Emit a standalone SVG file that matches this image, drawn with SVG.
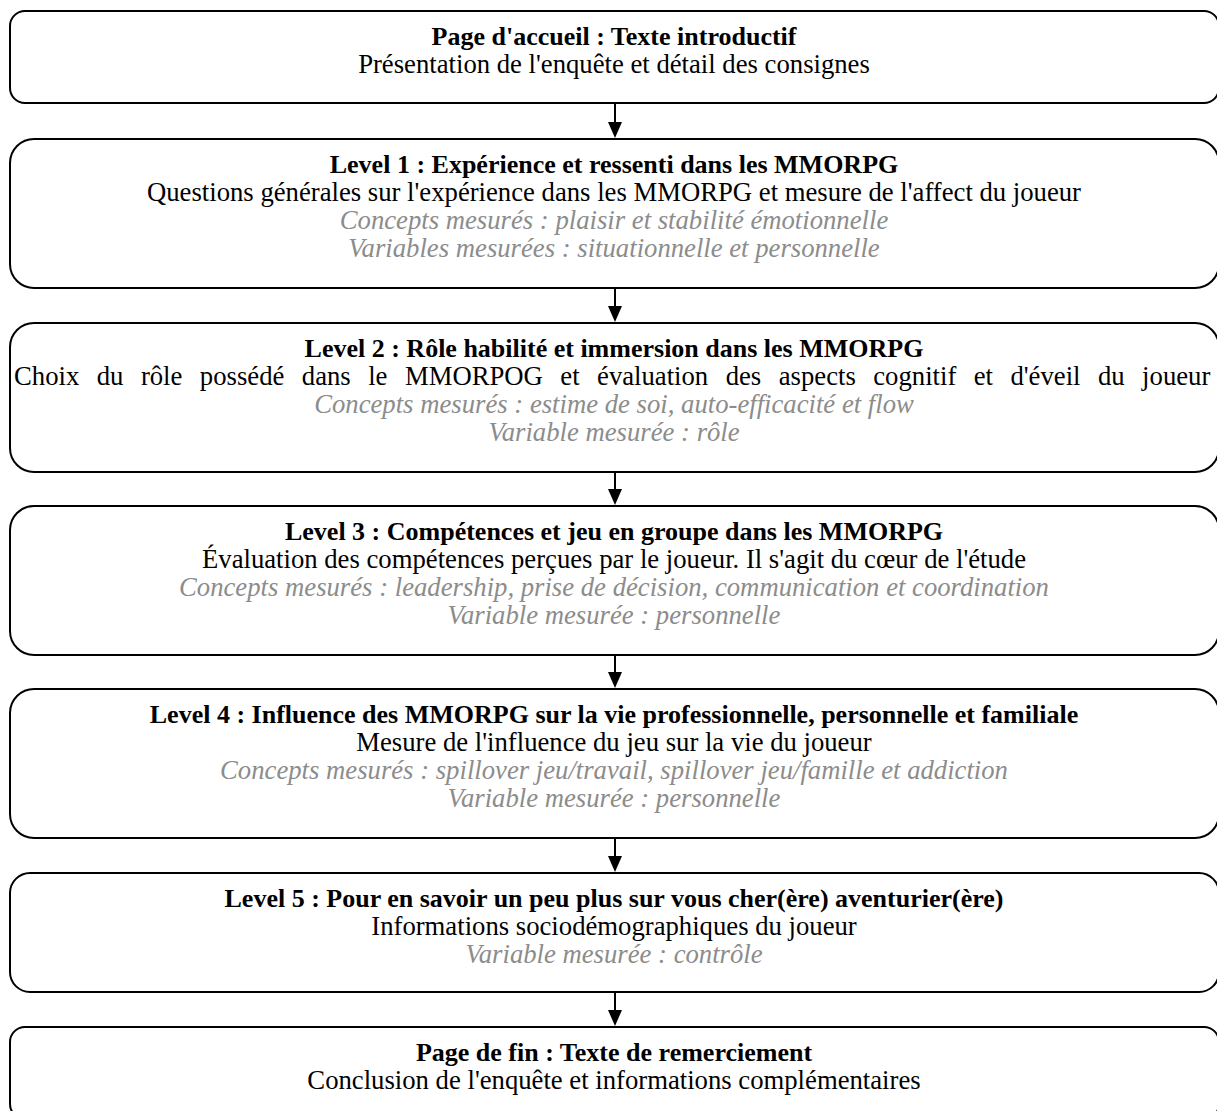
<svg xmlns="http://www.w3.org/2000/svg" width="1217" height="1111" viewBox="0 0 1217 1111">
<defs>
<style>
.box{fill:#fff;stroke:#000;stroke-width:2}
text{font-family:"Liberation Serif","Times New Roman",serif;font-size:26.7px;text-anchor:middle;fill:#000}
.t{font-weight:bold;font-size:26px}
.g{font-style:italic;fill:#8c8c8c}
.c{stroke:#000;stroke-width:2;fill:none}
.ah{fill:#000}
</style>
</defs>
<g id="connectors">
<line class="c" x1="615" y1="104" x2="615" y2="122"/><path class="ah" d="M608,122 L622,122 L615,138 Z"/>
<line class="c" x1="615" y1="289" x2="615" y2="306"/><path class="ah" d="M608,306 L622,306 L615,322 Z"/>
<line class="c" x1="615" y1="473" x2="615" y2="489"/><path class="ah" d="M608,489 L622,489 L615,505 Z"/>
<line class="c" x1="615" y1="656" x2="615" y2="672"/><path class="ah" d="M608,672 L622,672 L615,688 Z"/>
<line class="c" x1="615" y1="839" x2="615" y2="856"/><path class="ah" d="M608,856 L622,856 L615,872 Z"/>
<line class="c" x1="615" y1="993" x2="615" y2="1010"/><path class="ah" d="M608,1010 L622,1010 L615,1026 Z"/>
</g>
<g id="n0">
<rect class="box" x="10" y="11" width="1209" height="92" rx="15"/>
<text class="t" x="614" y="45">Page d'accueil : Texte introductif</text>
<text x="614" y="73">Présentation de l'enquête et détail des consignes</text>
</g>
<g id="n1">
<rect class="box" x="10" y="139" width="1209" height="149" rx="24"/>
<text class="t" x="614" y="173">Level 1 : Expérience et ressenti dans les MMORPG</text>
<text x="614" y="201">Questions générales sur l'expérience dans les MMORPG et mesure de l'affect du joueur</text>
<text class="g" x="614" y="229">Concepts mesurés : plaisir et stabilité émotionnelle</text>
<text class="g" x="614" y="257">Variables mesurées : situationnelle et personnelle</text>
</g>
<g id="n2">
<rect class="box" x="10" y="323" width="1209" height="149" rx="24"/>
<text class="t" x="614" y="357">Level 2 : Rôle habilité et immersion dans les MMORPG</text>
<text x="14" y="385" style="text-anchor:start;word-spacing:10.8px">Choix du rôle possédé dans le MMORPOG et évaluation des aspects cognitif et d'éveil du joueur</text>
<text class="g" x="614" y="413">Concepts mesurés : estime de soi, auto-efficacité et flow</text>
<text class="g" x="614" y="441">Variable mesurée : rôle</text>
</g>
<g id="n3">
<rect class="box" x="10" y="506" width="1209" height="149" rx="24"/>
<text class="t" x="614" y="540">Level 3 : Compétences et jeu en groupe dans les MMORPG</text>
<text x="614" y="568">Évaluation des compétences perçues par le joueur. Il s'agit du cœur de l'étude</text>
<text class="g" x="614" y="596">Concepts mesurés : leadership, prise de décision, communication et coordination</text>
<text class="g" x="614" y="624">Variable mesurée : personnelle</text>
</g>
<g id="n4">
<rect class="box" x="10" y="689" width="1209" height="149" rx="24"/>
<text class="t" x="614" y="723">Level 4 : Influence des MMORPG sur la vie professionnelle, personnelle et familiale</text>
<text x="614" y="751">Mesure de l'influence du jeu sur la vie du joueur</text>
<text class="g" x="614" y="779">Concepts mesurés : spillover jeu/travail, spillover jeu/famille et addiction</text>
<text class="g" x="614" y="807">Variable mesurée : personnelle</text>
</g>
<g id="n5">
<rect class="box" x="10" y="873" width="1209" height="119" rx="20"/>
<text class="t" x="614" y="907">Level 5 : Pour en savoir un peu plus sur vous cher(ère) aventurier(ère)</text>
<text x="614" y="935">Informations sociodémographiques du joueur</text>
<text class="g" x="614" y="963">Variable mesurée : contrôle</text>
</g>
<g id="n6">
<rect class="box" x="10" y="1027" width="1209" height="92" rx="15"/>
<text class="t" x="614" y="1061">Page de fin : Texte de remerciement</text>
<text x="614" y="1089">Conclusion de l'enquête et informations complémentaires</text>
</g>
</svg>
